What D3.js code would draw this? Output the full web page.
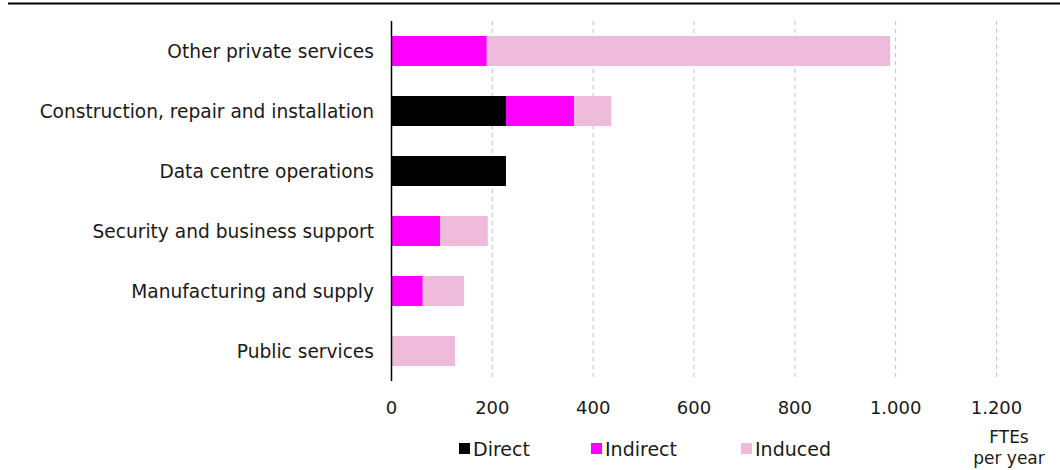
<!DOCTYPE html>
<html>
<head>
<meta charset="utf-8">
<script src="https://cdn.jsdelivr.net/npm/d3@7"></script>
<style>
  body { margin: 0; background: #fff; }
  svg { display: block; font-family: "DejaVu Sans", Verdana, sans-serif; }
</style>
</head>
<body>
<svg id="chart" width="1060" height="470"></svg>
<script>
// data (FTEs per year)
const categories = ['Other private services', 'Construction, repair and installation',
  'Data centre operations', 'Security and business support', 'Manufacturing and supply', 'Public services']
const direct   = [0, 228, 228, 0, 0, 0]
const indirect = [190, 135, 0, 98, 63, 0]
const induced  = [800, 74, 0, 94, 82, 127]
const seriesNames = ['Direct', 'Indirect', 'Induced']
const colors = ['#000000', '#ff00ff', '#efbbdb']
const xTicks = [0, 200, 400, 600, 800, 1000, 1200]

const svg = d3.select('#chart')
const margin = { top: 21, left: 391, right: 64, bottom: 89 }
const width = 1060 - margin.left - margin.right,
      height = 470 - margin.top - margin.bottom

// cut-off heading rule at the very top
svg.append('line')
  .attr('x1', 8).attr('x2', 1060)
  .attr('y1', 3.5).attr('y2', 3.5)
  .attr('stroke', '#000').attr('stroke-width', 2)

const g = svg.append('g').attr('transform', `translate(${margin.left},${margin.top})`)

const x = d3.scaleLinear().domain([0, 1200]).range([0, 605])
const y = d3.scaleBand().domain(categories).range([0, height])
  .paddingInner(0.5).paddingOuter(0.25)

// dashed gridlines
g.selectAll('.grid')
  .data(xTicks.slice(1))
  .join('line')
  .attr('x1', d => x(d) + 0.5).attr('x2', d => x(d) + 0.5)
  .attr('y1', 0).attr('y2', height)
  .attr('stroke', '#bfbfbf')
  .attr('stroke-dasharray', '4,4')

const rows = categories.map((c, i) => ({ cat: c, Direct: direct[i], Indirect: indirect[i], Induced: induced[i] }))
const stack = d3.stack().keys(seriesNames)(rows)

g.selectAll('.series')
  .data(stack)
  .join('g')
  .attr('fill', (d, i) => colors[i])
  .selectAll('rect')
  .data(d => d.filter(s => s[1] - s[0] > 0))
  .join('rect')
  .attr('x', d => x(d[0]))
  .attr('width', d => x(d[1]) - x(d[0]))
  .attr('y', d => y(d.data.cat))
  .attr('height', y.bandwidth())

// category labels
g.append('g')
  .selectAll('text')
  .data(categories)
  .join('text')
  .attr('x', -17)
  .attr('y', d => y(d) + y.bandwidth() / 2)
  .attr('dy', '0.35em')
  .attr('text-anchor', 'end')
  .attr('font-size', 18.6)
  .attr('fill', '#1a1a1a')
  .text(d => d)

// vertical axis line
g.append('line')
  .attr('x1', 0.5).attr('x2', 0.5)
  .attr('y1', 0).attr('y2', height)
  .attr('stroke', '#000').attr('stroke-width', 1.5)

// x tick labels
const fmt = d => d3.format(',')(d).replace(',', '.')
g.append('g')
  .selectAll('text')
  .data(xTicks)
  .join('text')
  .attr('x', d => x(d) + 0.5)
  .attr('y', height + 33)
  .attr('text-anchor', 'middle')
  .attr('font-size', 18)
  .attr('fill', '#1a1a1a')
  .text(fmt)

// legend
const legendX = [459, 591, 741]
const lg = svg.append('g')
seriesNames.forEach((name, i) => {
  lg.append('rect')
    .attr('x', legendX[i]).attr('y', 443)
    .attr('width', 11).attr('height', 11)
    .attr('fill', colors[i])
  lg.append('text')
    .attr('x', legendX[i] + 14).attr('y', 456)
    .attr('font-size', 19)
    .attr('fill', '#1a1a1a')
    .text(name)
})

// unit label
const unit = svg.append('text')
  .attr('text-anchor', 'middle')
  .attr('font-size', 17)
  .attr('fill', '#1a1a1a')
unit.append('tspan').attr('x', 1009).attr('y', 443).text('FTEs')
unit.append('tspan').attr('x', 1009).attr('y', 464).text('per year')
</script>
</body>
</html>
